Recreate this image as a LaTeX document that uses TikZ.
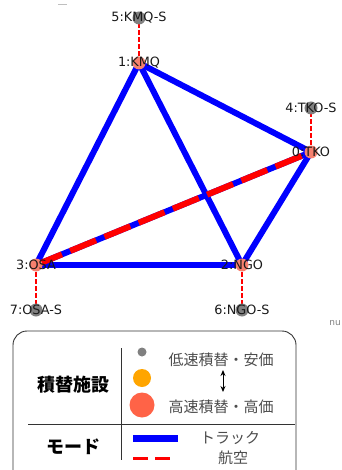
\documentclass[tikz,border=0pt]{standalone}
\definecolor{NodeSalmon}{RGB}{246,128,110}
\definecolor{NodeGray}{RGB}{128,128,128}
\definecolor{LegOrange}{RGB}{255,165,0}
\definecolor{LegTomato}{RGB}{255,99,71}
\usepackage{fontspec}
\setmainfont{DejaVu Sans}
\newfontfamily\jpfont{Noto Sans CJK JP}
\usepackage{tikz}
\usetikzlibrary{arrows.meta, backgrounds}
\usepackage{xcolor}

\tikzset{
  hub/.style={circle, fill=NodeSalmon, minimum size=13pt, inner sep=0pt},
  sub/.style={circle, fill=NodeGray, minimum size=13pt, inner sep=0pt},
  lbl/.style={font=\fontsize{12.8}{14}\selectfont, text=black!90, inner sep=0pt},
  track/.style={draw=blue, line width=6pt},
  air/.style={draw=red, line width=6pt, dash pattern=on 28pt off 9pt},
  feeder/.style={draw=red, line width=1.2pt, dash pattern=on 4.5pt off 2.5pt},
  legtext/.style={font=\jpfont\fontsize{15}{17}\selectfont, text=black!70, inner sep=0pt},
  legtitle/.style={font=\jpfont\bfseries\fontsize{18}{20}\selectfont, inner sep=0pt},
}

\begin{document}
\begin{tikzpicture}[x=1pt, y=-1pt]
    \useasboundingbox (0,0) rectangle (341,470);

    % network nodes
    \node[hub, label={[lbl]center:0:TKO}] (tko) at (311,152) {};
    \node[hub, label={[lbl]center:1:KMQ}] (kmq) at (139,63) {};
    \node[hub, label={[lbl]center:2:NGO}] (ngo) at (242,265) {};
    \node[hub, label={[lbl]center:3:OSA}] (osa) at (36,265) {};
    \node[sub, label={[lbl]center:4:TKO-S}] (tkos) at (311,108) {};
    \node[sub, label={[lbl]center:5:KMQ-S}] (kmqs) at (139,18) {};
    \node[sub, label={[lbl]center:6:NGO-S}] (ngos) at (242,310) {};
    \node[sub, label={[lbl]center:7:OSA-S}] (osas) at (36,310) {};

    % links
    \begin{scope}[on background layer]
      \draw[track] (kmq.center) -- (osa.center);
      \draw[track] (kmq.center) -- (ngo.center);
      \draw[track] (kmq.center) -- (tko.center);
      \draw[track] (tko.center) -- (ngo.center);
      \draw[track] (osa.center) -- (ngo.center);
      \draw[track] (osa.center) -- (tko.center);
      \draw[air] (osa.center) -- (tko.center);
      \draw[feeder] (kmq.center) -- (kmqs.center);
      \draw[feeder] (tko.center) -- (tkos.center);
      \draw[feeder] (ngo.center) -- (ngos.center);
      \draw[feeder] (osa.center) -- (osas.center);
    \end{scope}

    % stray marks
    \draw[gray!50, line width=1pt] (58,5) -- (67,5);
    \node[font=\fontsize{9}{10}\selectfont, text=gray, inner sep=0pt] (nu) at (335,323) {nu};

    % legend
    \draw[black!80, line width=0.9pt, rounded corners=14pt] (13,331) rectangle (296,484);
    \draw[black!80, line width=0.8pt] (121,348) -- (121,460);
    \draw[black!80, line width=0.8pt] (28,424) -- (295,424);
    \node[legtitle] (facility) at (73,385) {積替施設};
    \node[legtitle] (mode) at (73,447) {モード};

    \node[circle, fill=NodeGray, minimum size=9pt, inner sep=0pt] (cheap) at (142,352) {};
    \node[circle, fill=LegOrange, minimum size=18pt, inner sep=0pt] (mid) at (142,378) {};
    \node[circle, fill=LegTomato, minimum size=25pt, inner sep=0pt] (fast) at (142,405) {};
    \node[legtext] (lowtxt) at (221,360) {低速積替・安価};
    \node[legtext] (hightxt) at (221,407) {高速積替・高価};
    \coordinate (arrtop) at (223,370);
    \coordinate (arrbot) at (223,392);
    \draw[{Stealth[length=6pt, width=5pt]}-{Stealth[length=6pt, width=5pt]}, line width=0.9pt] (arrtop) -- (arrbot);

    \coordinate (trkA) at (133,438);
    \coordinate (trkB) at (178,438);
    \coordinate (airA) at (133,458);
    \coordinate (airB) at (170,458);
    \draw[blue, line width=7pt] (trkA) -- (trkB);
    \draw[red, line width=3pt, dash pattern=on 15pt off 7pt] (airA) -- (airB);
    \node[legtext] (trktxt) at (230,438) {トラック};
    \node[legtext] (airtxt) at (233,458) {航空};
  \end{tikzpicture}
\end{document}
